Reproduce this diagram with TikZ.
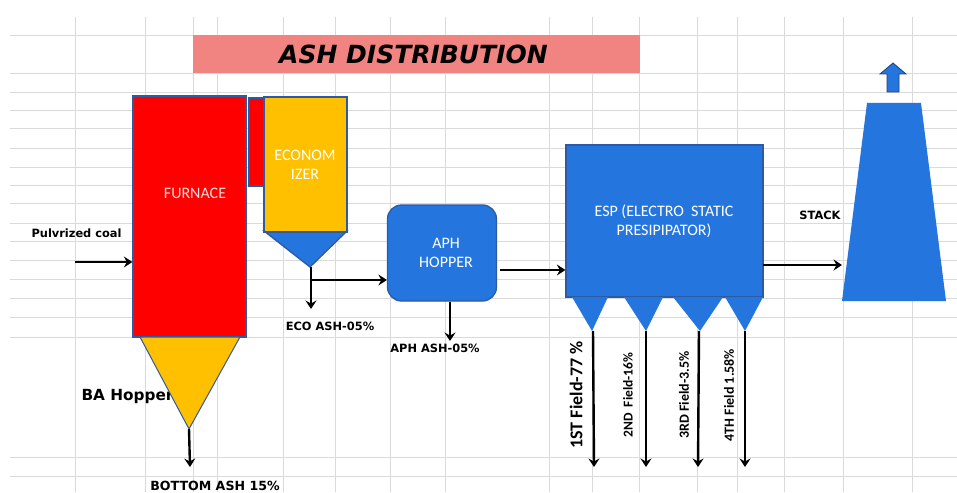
\documentclass[tikz,border=0pt]{standalone}
\usepackage{fontspec}
\setmainfont{Carlito}
\newfontfamily\labelfont{DejaVu Sans}
\usetikzlibrary{arrows.meta,calc}

\definecolor{gridgray}{RGB}{218,218,218}
\definecolor{titlepink}{RGB}{241,131,128}
\definecolor{furnred}{RGB}{255,0,0}
\definecolor{ecoorange}{RGB}{255,192,0}
\definecolor{unitblue}{RGB}{36,118,222}
\definecolor{edgeblue}{RGB}{45,90,160}

\tikzset{
  unit/.style={draw=edgeblue, line width=1.3pt, inner sep=0pt},
  flow/.style={draw=black, line width=2.4pt, -{Stealth[length=8.5pt,width=11pt,inset=3pt]}},
  intext/.style={text=white, font=\fontsize{16}{19}\selectfont, align=center},
  lbl/.style={text=black, font=\labelfont\bfseries\fontsize{11.4}{14}\selectfont},
  fieldlbl/.style={text=black, font=\bfseries\fontsize{14}{16}\selectfont, rotate=90},
}

\begin{document}
\begin{tikzpicture}[x=1pt,y=-1pt]
\useasboundingbox (0,0) rectangle (957,492);
\fill[white] (0,0) rectangle (957,492);

% worksheet grid behind the drawing
\foreach \gx in {75,145,193,217,283,335,390,445,549,592,639,697,737,784,843,912}
  \draw[gridgray, line width=0.6pt] (\gx,17) -- (\gx,492);
\foreach \gy in {35,73,92,110,128,148,167,185,203,223,241,260,279,298,317,337,457,476}
  \draw[gridgray, line width=0.6pt] (10,\gy) -- (957,\gy);

% title banner
\node[fill=titlepink, minimum width=447pt, minimum height=38pt, inner sep=0pt] (title) at (416.5,54) {};
\node[font=\labelfont\bfseries\itshape\fontsize{25}{28}\selectfont] (titletext) at (413.5,54) {ASH DISTRIBUTION};

% boiler furnace with bottom ash hopper
\node[lbl, font=\labelfont\bfseries\fontsize{15.3}{18}\selectfont, anchor=west] (balbl) at (78,397) {BA Hopper};
\node[unit, fill=furnred, minimum width=113pt, minimum height=241pt] (furnace) at (189.5,216.5) {};
\node[intext, text=white!85!red] (furntext) at (195,193) {FURNACE};
\draw[unit, fill=ecoorange, line width=1pt] (140,337) -- (240,337) -- (189,429) -- cycle;
\coordinate (batip) at (189,429);
\node[unit, fill=furnred, minimum width=16pt, minimum height=88pt] (duct) at (257,142) {};

% economizer with its hopper
\draw[unit, fill=unitblue] (264,231) -- (347,231) -- (310,267) -- cycle;
\coordinate (ecotip) at (311,267);
\node[unit, fill=ecoorange, minimum width=83pt, minimum height=135pt] (eco) at (305.5,164.5) {};
\node[intext] (ecotext) at (305,165) {ECONOM\\IZER};

% air preheater hopper
\node[unit, fill=unitblue, rounded corners=14pt, minimum width=109pt, minimum height=96pt] (aph) at (442,253) {};
\node[intext] (aphtext) at (446,253) {APH\\HOPPER};

% electrostatic precipitator and its four field hoppers
\node[unit, fill=unitblue, minimum width=197pt, minimum height=152pt] (esp) at (664.5,221) {};
\node[intext] (esptext) at (664,221) {ESP (ELECTRO\ \ STATIC\\PRESIPIPATOR)};
\fill[unitblue] (572,297) -- (608,297) -- (592,331) -- cycle;
\fill[unitblue] (624,297) -- (663,297) -- (646,331) -- cycle;
\fill[unitblue] (673,297) -- (723,297) -- (700,331) -- cycle;
\fill[unitblue] (725,297) -- (763,297) -- (745,331) -- cycle;
\coordinate (f1) at (593,331);
\coordinate (f2) at (646,331);
\coordinate (f3) at (699,331);
\coordinate (f4) at (745,331);

% chimney stack with exhaust arrow
\fill[unitblue] (842,301) -- (867,103) -- (921,103) -- (946,301) -- cycle;
\coordinate (stackin) at (842,265);
\draw[fill=unitblue, draw=edgeblue!70!black, line width=0.8pt]
  (893,63) -- (906,74) -- (899,74) -- (899,92) -- (887,92) -- (887,74) -- (880,74) -- cycle;

% inputs and flows
\node[lbl, anchor=west] (coal) at (28,233) {Pulvrized coal};
\coordinate (coalin) at (75,262);
\draw[flow] (coalin) -- (furnace.west |- coalin);

\coordinate (ecoout) at (311,309);
\draw[flow] (ecotip) -- (ecoout);
\coordinate (ecojoin) at (311,280);
\draw[flow] (ecojoin) -- (aph.west |- ecojoin);
\node[lbl] (ecolbl) at (330,326) {ECO ASH-05\%};

\coordinate (aphdrop) at (450,302);
\draw[flow] (aphdrop) -- (450,341);
\node[lbl] (aphlbl) at (435,348) {APH ASH-05\%};

\coordinate (aphout) at (500,270);
\draw[flow] (aphout) -- (esp.west |- aphout);

\coordinate (espout) at (763,265);
\draw[flow] (espout) -- (stackin);
\node[lbl] (stacklbl) at (820,215) {STACK};

\draw[flow] (batip) -- (190,467);
\node[lbl, font=\labelfont\bfseries\fontsize{12.6}{15}\selectfont] (bottomlbl) at (215,486) {BOTTOM ASH 15\%};

\draw[flow] (f1) -- (594,467);
\draw[flow] (f2) -- (646,467);
\draw[flow] (f3) -- (698,467);
\draw[flow] (f4) -- (745,467);
\node[fieldlbl, font=\bfseries\fontsize{18}{20}\selectfont] (fl1) at (576,395) {1ST Field-77 \%};
\node[fieldlbl, font=\bfseries\fontsize{13.5}{16}\selectfont] (fl2) at (628,395) {2ND\ \ Field-16\%};
\node[fieldlbl] (fl3) at (684,395) {3RD Field-3.5\%};
\node[fieldlbl] (fl4) at (729,395) {4TH Field 1.58\%};
\end{tikzpicture}
\end{document}
